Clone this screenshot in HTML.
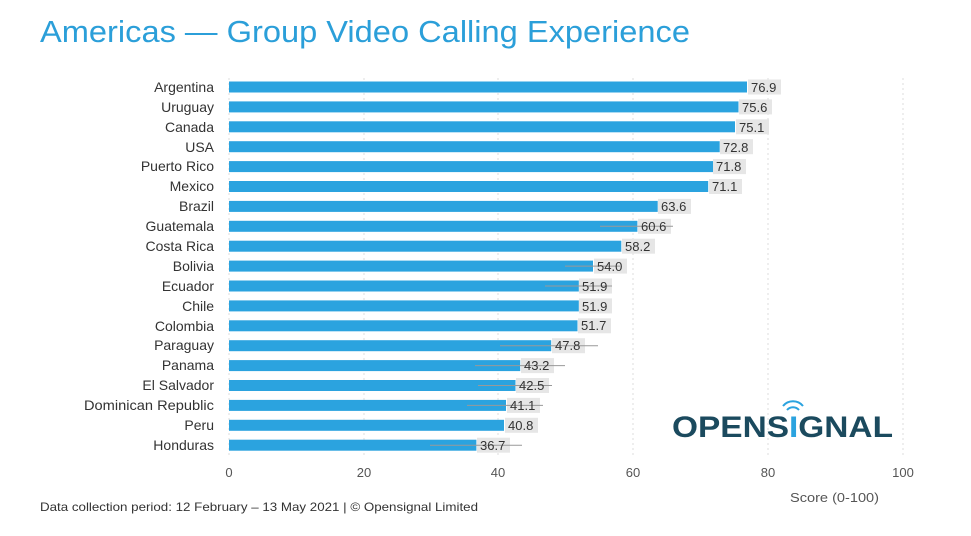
<!DOCTYPE html><html><head><style>body{margin:0;background:#fff}svg{display:block;font-family:"Liberation Sans",sans-serif}</style></head><body>
<svg width="971" height="536" xmlns="http://www.w3.org/2000/svg">
<text x="40" y="42" font-size="31" fill="#2b9fd9" textLength="650" lengthAdjust="spacingAndGlyphs">Americas — Group Video Calling Experience</text>
<g stroke="#ddd" stroke-dasharray="2,3"><line x1="229" y1="78" x2="229" y2="455"/><line x1="364" y1="78" x2="364" y2="455"/><line x1="498" y1="78" x2="498" y2="455"/><line x1="633" y1="78" x2="633" y2="455"/><line x1="768" y1="78" x2="768" y2="455"/><line x1="903" y1="78" x2="903" y2="455"/></g>
<g font-size="13" fill="#555" text-anchor="middle"><text x="229" y="477">0</text><text x="364" y="477">20</text><text x="498" y="477">40</text><text x="633" y="477">60</text><text x="768" y="477">80</text><text x="903" y="477">100</text></g>
<text x="790" y="502" font-size="13" fill="#555" textLength="89" lengthAdjust="spacingAndGlyphs">Score (0-100)</text>
<text x="40" y="511" font-size="12" fill="#333" textLength="438" lengthAdjust="spacingAndGlyphs">Data collection period: 12 February – 13 May 2021  |  © Opensignal Limited</text>
<g font-size="14" fill="#333" text-anchor="end">
<text x="214" y="92">Argentina</text><text x="214" y="112">Uruguay</text><text x="214" y="132">Canada</text><text x="214" y="152">USA</text><text x="214" y="171">Puerto Rico</text><text x="214" y="191">Mexico</text><text x="214" y="211">Brazil</text><text x="214" y="231">Guatemala</text><text x="214" y="251">Costa Rica</text><text x="214" y="271">Bolivia</text><text x="214" y="291">Ecuador</text><text x="214" y="311">Chile</text><text x="214" y="331">Colombia</text><text x="214" y="350">Paraguay</text><text x="214" y="370">Panama</text><text x="214" y="390">El Salvador</text><text x="84" y="410" text-anchor="start" textLength="130" lengthAdjust="spacingAndGlyphs">Dominican Republic</text><text x="214" y="430">Peru</text><text x="214" y="450">Honduras</text>
</g>
<g fill="#2ba3df">
<rect x="229" y="81.5" width="518" height="11"/><rect x="229" y="101.4" width="509.5" height="11"/><rect x="229" y="121.3" width="506" height="11"/><rect x="229" y="141.2" width="490.7" height="11"/><rect x="229" y="161.1" width="484" height="11"/><rect x="229" y="181" width="479.2" height="11"/><rect x="229" y="200.9" width="428.7" height="11"/><rect x="229" y="220.8" width="408.4" height="11"/><rect x="229" y="240.7" width="392.3" height="11"/><rect x="229" y="260.6" width="364" height="11"/><rect x="229" y="280.5" width="349.8" height="11"/><rect x="229" y="300.4" width="349.8" height="11"/><rect x="229" y="320.3" width="348.5" height="11"/><rect x="229" y="340.2" width="322.2" height="11"/><rect x="229" y="360.1" width="291.2" height="11"/><rect x="229" y="380" width="286.5" height="11"/><rect x="229" y="399.9" width="277" height="11"/><rect x="229" y="419.8" width="275" height="11"/><rect x="229" y="439.7" width="247.4" height="11"/>
</g>
<g fill="#e6e6e6">
<rect x="748" y="79.5" width="33" height="15"/><rect x="739" y="99.4" width="33" height="15"/><rect x="736" y="119.3" width="33" height="15"/><rect x="720" y="139.2" width="33" height="15"/><rect x="713" y="159.1" width="33" height="15"/><rect x="709" y="179" width="33" height="15"/><rect x="658" y="198.9" width="33" height="15"/><rect x="638" y="218.8" width="33" height="15"/><rect x="622" y="238.7" width="33" height="15"/><rect x="594" y="258.6" width="33" height="15"/><rect x="579" y="278.5" width="33" height="15"/><rect x="579" y="298.4" width="33" height="15"/><rect x="578" y="318.3" width="33" height="15"/><rect x="552" y="338.2" width="33" height="15"/><rect x="521" y="358.1" width="33" height="15"/><rect x="516" y="378" width="33" height="15"/><rect x="507" y="397.9" width="33" height="15"/><rect x="505" y="417.8" width="33" height="15"/><rect x="477" y="437.7" width="33" height="15"/>
</g>
<g stroke="#999" stroke-width="1">
<line x1="500" y1="345.7" x2="598" y2="345.7"/><line x1="475" y1="365.6" x2="565" y2="365.6"/><line x1="478" y1="385.5" x2="552" y2="385.5"/><line x1="467" y1="405.4" x2="543" y2="405.4"/><line x1="430" y1="445.2" x2="522" y2="445.2"/><line x1="565" y1="266.1" x2="620" y2="266.1"/><line x1="545" y1="286" x2="612" y2="286"/><line x1="600" y1="226.3" x2="673" y2="226.3"/>
</g>
<g font-size="13" fill="#333">
<text x="751" y="92">76.9</text><text x="742" y="112">75.6</text><text x="739" y="132">75.1</text><text x="723" y="152">72.8</text><text x="716" y="171">71.8</text><text x="712" y="191">71.1</text><text x="661" y="211">63.6</text><text x="641" y="231">60.6</text><text x="625" y="251">58.2</text><text x="597" y="271">54.0</text><text x="582" y="291">51.9</text><text x="582" y="311">51.9</text><text x="581" y="330">51.7</text><text x="555" y="350">47.8</text><text x="524" y="370">43.2</text><text x="519" y="390">42.5</text><text x="510" y="410">41.1</text><text x="508" y="430">40.8</text><text x="480" y="450">36.7</text>
</g>
<text x="672" y="437" font-size="30" font-weight="bold" fill="#1b4a5e" textLength="221" lengthAdjust="spacingAndGlyphs">OPENS<tspan fill="#2ba3df">I</tspan>GNAL</text>
<g fill="none" stroke="#2ba3df" stroke-width="2"><path d="M787 410 a8 8 0 0 1 12 0"/><path d="M783 406 a13 13 0 0 1 20 0"/></g>
</svg></body></html>
